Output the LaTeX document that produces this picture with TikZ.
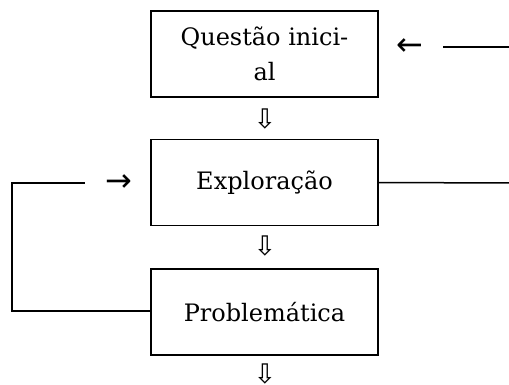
\documentclass[tikz,border=0pt]{standalone}
\usepackage{fontspec}
\setmainfont{DejaVu Serif}
\newfontfamily\symfont{DejaVu Sans}
\usepackage{tikz}

\begin{document}
\begin{tikzpicture}[x = 1pt, y = -1pt, line width = 1.5pt,
  etapa/.style = {draw, minimum width = 227pt, minimum height = 86pt, align = center,
    font = \fontsize{24}{35}\selectfont, inner sep = 0pt},
  seta/.style = {font = \symfont\fontsize{32}{32}\selectfont, inner sep = 0pt},
  baixo/.style = {font = \symfont\fontsize{27}{27}\selectfont, inner sep = 0pt, anchor = north}]
\useasboundingbox (0, 0) rectangle (509, 385);
\node[etapa] (q) at (264.5, 54) {Questão inici-\\al};
\node[etapa] (e) at (264.5, 182.5) {Exploração};
\node[etapa] (p) at (264.5, 312) {Problemática};
\foreach \n/\y in {d1/108, d2/235, d3/363}{\node[baixo] (\n) at (265, \y) {⇩};}
\node[seta] (vq) at (410, 47) {←};
\node[seta] (ve) at (119, 183) {→};
\coordinate (qr) at (509, 47);
\coordinate (er) at (509, 183);
\coordinate (pl) at (12, 311);
\draw ([xshift = 19pt]vq.east) -- (qr);
\draw (e.east) -- (er);
\draw ([xshift = -20pt]ve.west) -| (pl) -- (p.west |- pl);
\end{tikzpicture}
\end{document}
